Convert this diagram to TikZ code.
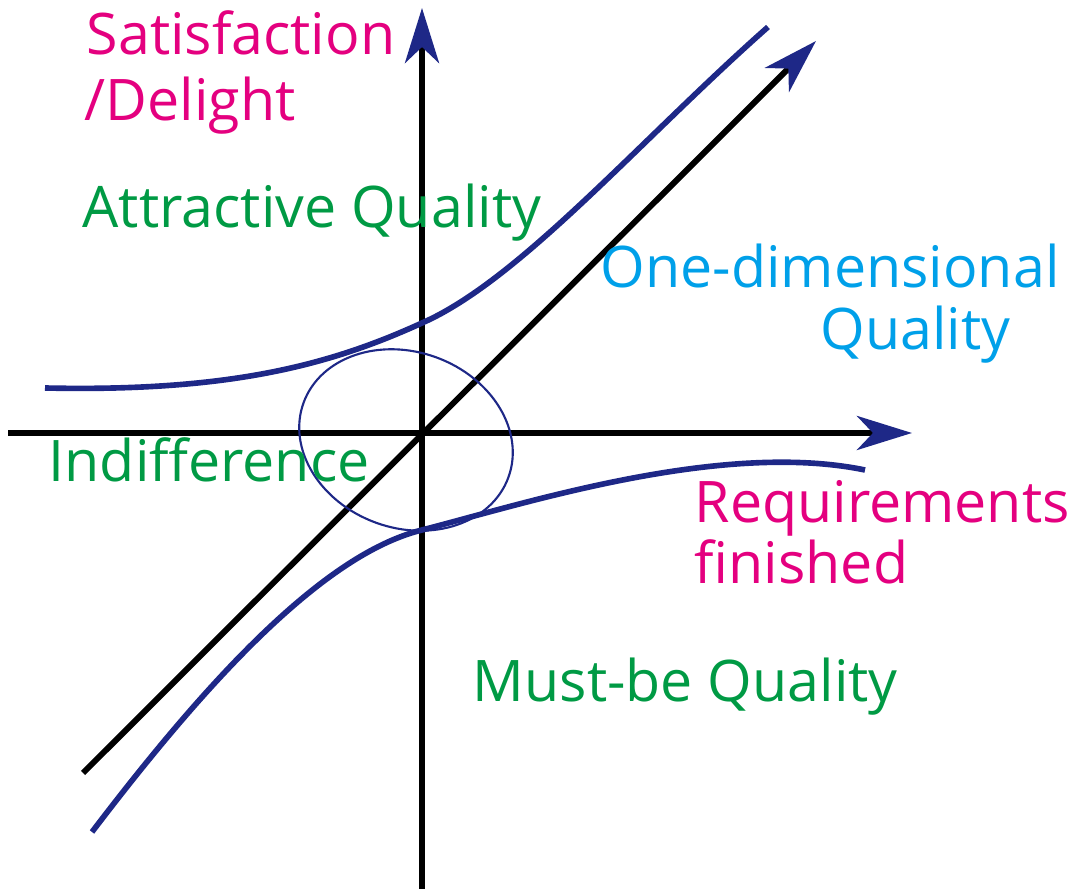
\documentclass[tikz,border=0pt]{standalone}
\usepackage{fontspec}
\setmainfont{Open Sans}
\usetikzlibrary{positioning,arrows.meta}
\definecolor{navyline}{RGB}{30, 40, 135}
\definecolor{pinklabel}{RGB}{228, 0, 127}
\definecolor{greenlabel}{RGB}{0, 154, 68}
\definecolor{bluelabel}{RGB}{0, 160, 233}

\begin{document}
\begin{tikzpicture}[
    x=0.01cm, y=-0.01cm,
    % Axis and diagonal styles
    axisarrow/.style={
        draw=black,
        line width=1.7pt,
        -{Stealth[length=5.5mm, width=3.4mm, inset=1.6mm, color=navyline]}
    },
    kanocurve/.style={
        draw=navyline,
        line width=1.6pt
    },
    zonering/.style={
        draw=navyline,
        line width=0.6pt
    },
    labeltext/.style={
        anchor=base west,
        inner sep=0pt,
        font=\fontsize{16.3}{19}\selectfont
    }
]
    \useasboundingbox (0,0) rectangle (1069,889);

    % =========================================================================
    % 1. AXES AND DIAGONAL
    % =========================================================================
    \coordinate (origin) at (422,433);
    \coordinate (ybottom) at (422,889);
    \coordinate (ytop) at (422,8);
    \coordinate (xleft) at (8,433);
    \coordinate (xright) at (912,433);
    \coordinate (diaglow) at (83,773);
    \coordinate (diaghigh) at (816,41);

    \draw[axisarrow] (ybottom) -- (ytop);
    \draw[axisarrow] (xleft) -- (xright);
    \draw[axisarrow] (diaglow) -- (diaghigh);

    % =========================================================================
    % 2. CURVES
    % =========================================================================
    % Attractive quality (upper curve)
    \coordinate (attstart) at (45,388);
    \coordinate (attmid) at (422,323);
    \coordinate (attend) at (768,27);
    \draw[kanocurve] (attstart) .. controls (230,392) and (330,365) .. (attmid)
        .. controls (520,280) and (640,140) .. (attend);

    % Must-be quality (lower curve)
    \coordinate (muststart) at (92,832);
    \coordinate (mustmid) at (422,530);
    \coordinate (mustend) at (865,470);
    \draw[kanocurve] (muststart) .. controls (200,690) and (320,555) .. (mustmid)
        .. controls (520,505) and (720,440) .. (mustend);

    % Indifference zone
    \coordinate (ringcenter) at (406,440);
    \draw[zonering, rotate around={-20:(ringcenter)}] (ringcenter)
        ellipse [x radius=109, y radius=88];

    % =========================================================================
    % 3. LABELS
    % =========================================================================
    \node[labeltext, text=pinklabel] (satis) at (86,55) {Satisfaction};
    \node[labeltext, text=pinklabel] (delight) at (84,121) {/Delight};

    \node[labeltext, text=greenlabel] (attract) at (82,228) {Attractive Quality};

    \node[labeltext, text=bluelabel] (onedim) at (600,288) {One-dimensional};
    \node[labeltext, text=bluelabel] (onedimq) at (820,350) {Quality};

    \node[labeltext, text=greenlabel] (indiff) at (48,482) {Indifference};

    \node[labeltext, text=pinklabel] (req) at (694,523) {Requirements};
    \node[labeltext, text=pinklabel] (fin) at (694,584) {finished};

    \node[labeltext, text=greenlabel] (mustbe) at (472,702) {Must-be Quality};

\end{tikzpicture}
\end{document}
